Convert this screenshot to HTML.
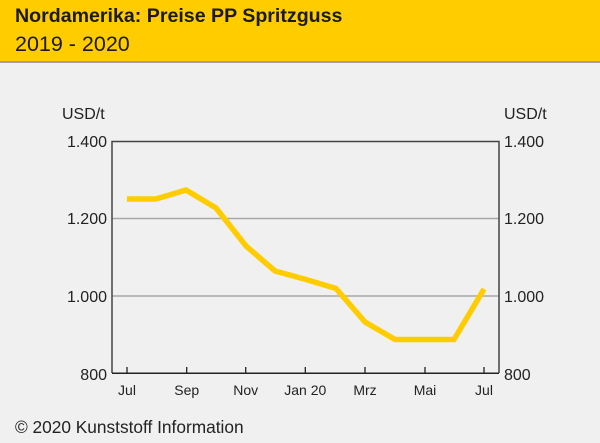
<!DOCTYPE html>
<html><head><meta charset="utf-8"><style>
body{margin:0;width:600px;height:443px;background:#eff0ef;font-family:"Liberation Sans",sans-serif;overflow:hidden}
.hd{position:absolute;left:0;top:0;width:600px;height:61px;background:#ffcc00;border-bottom:2px solid #a0a0a0}
.t1{position:absolute;left:15px;top:5px;font-size:19.6px;font-weight:bold;color:#1a1a1a}
.t2{position:absolute;left:15px;top:32px;font-size:21.5px;color:#1a1a1a}
</style></head><body>
<div class="hd"><div class="t1">Nordamerika: Preise PP Spritzguss</div><div class="t2">2019 - 2020</div></div>
<svg width="600" height="443" style="position:absolute;left:0;top:0" font-family="Liberation Sans, sans-serif" fill="#222">
<line x1="112" y1="218.5" x2="499" y2="218.5" stroke="#a8a8a8" stroke-width="1.5"/>
<line x1="112" y1="296" x2="499" y2="296" stroke="#a8a8a8" stroke-width="1.5"/>
<path d="M112,373V141.5H499V373" fill="none" stroke="#444" stroke-width="1.5"/>
<line x1="112" y1="373.3" x2="499" y2="373.3" stroke="#222" stroke-width="1.5"/>
<g stroke="#222" stroke-width="1.3">
<line x1="127" y1="367" x2="127" y2="373"/><line x1="186.7" y1="367" x2="186.7" y2="373"/><line x1="245.7" y1="367" x2="245.7" y2="373"/><line x1="305.3" y1="367" x2="305.3" y2="373"/><line x1="365" y1="367" x2="365" y2="373"/><line x1="425" y1="367" x2="425" y2="373"/><line x1="484" y1="367" x2="484" y2="373"/>
</g>
<polyline points="127,199 156,199 186,190 216,208 246,246 275,271 306,279.5 336,288.5 365,322 395,339.5 454,339.5 484,289" fill="none" stroke="#ffcc00" stroke-width="5.5" stroke-linejoin="miter"/>
<g font-size="16" text-anchor="end">
<text x="107" y="147">1.400</text><text x="107" y="224">1.200</text><text x="107" y="302">1.000</text><text x="107" y="380">800</text>
</g>
<g font-size="16">
<text x="504" y="147">1.400</text><text x="504" y="224">1.200</text><text x="504" y="302">1.000</text><text x="504" y="380">800</text>
<text x="62" y="119">USD/t</text><text x="504" y="119">USD/t</text>
</g>
<g font-size="14" text-anchor="middle">
<text x="127" y="395">Jul</text><text x="186.7" y="395">Sep</text><text x="245.7" y="395">Nov</text><text x="305.3" y="395">Jan 20</text><text x="365" y="395">Mrz</text><text x="425" y="395">Mai</text><text x="484" y="395">Jul</text>
</g>
<text x="15" y="433" font-size="17.3">© 2020 Kunststoff Information</text>
</svg>
</body></html>
